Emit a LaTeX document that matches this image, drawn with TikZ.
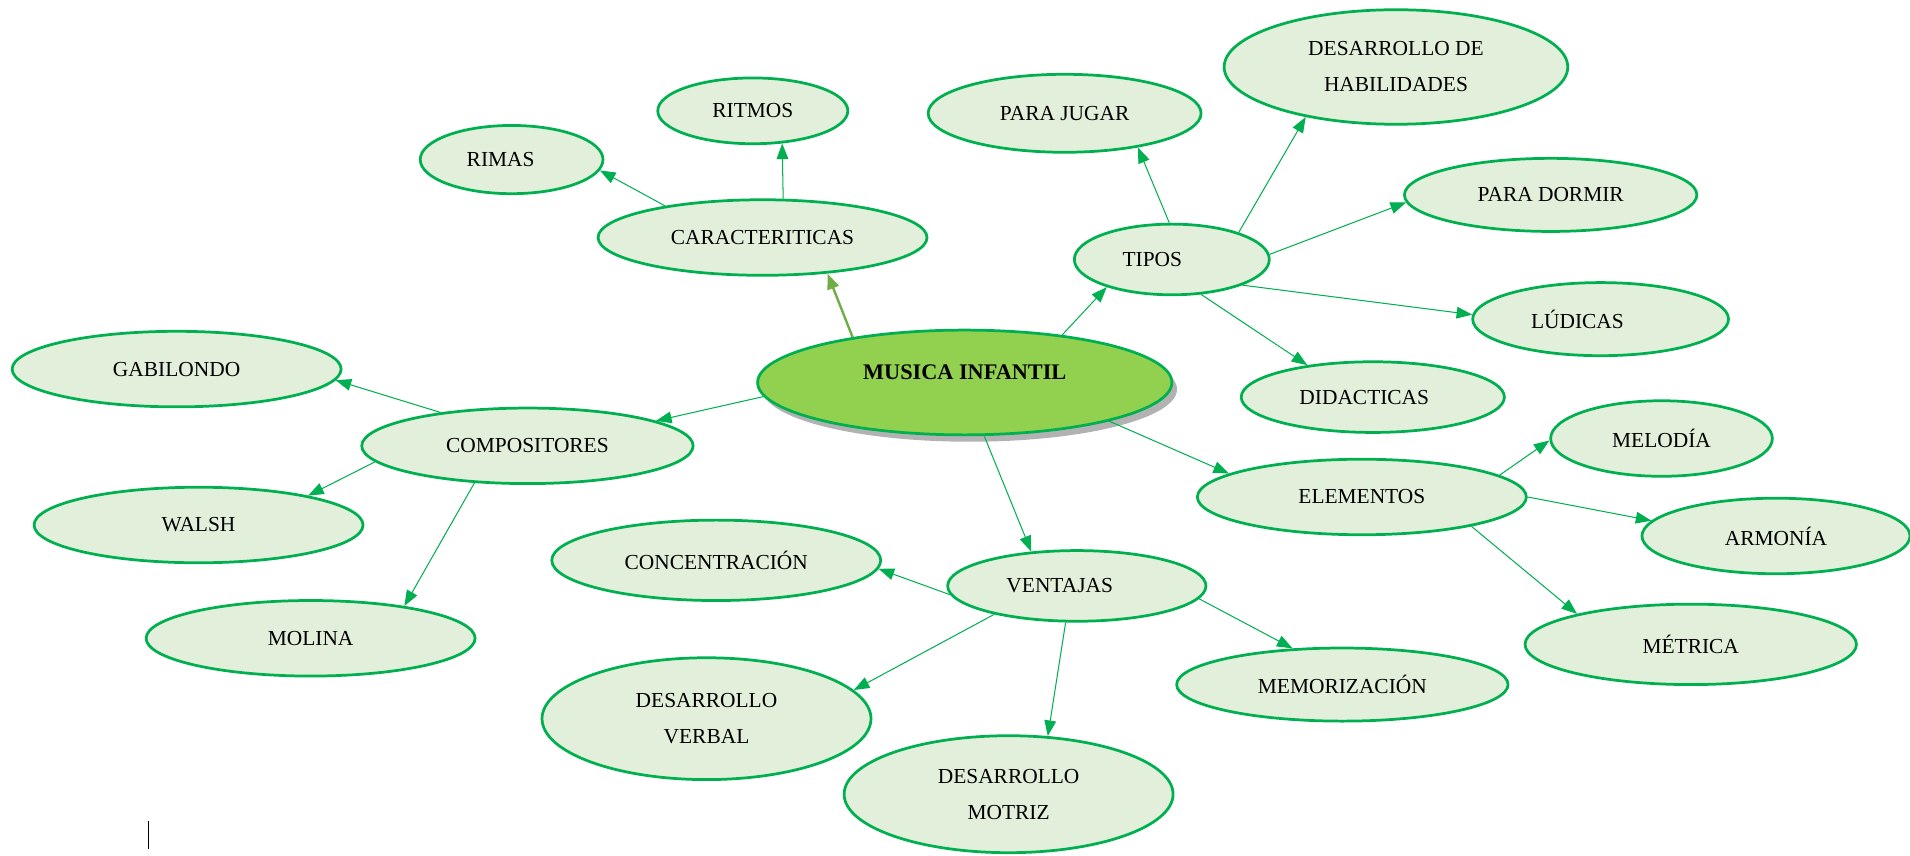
\documentclass[tikz,border=0pt]{standalone}
\usepackage{fontspec}
\setmainfont{Liberation Serif}
\usetikzlibrary{shapes.geometric, arrows.meta, shadows}
\definecolor{leafgreen}{HTML}{00B050}
\definecolor{leaffill}{HTML}{E2EFDA}
\definecolor{rootfill}{HTML}{92D050}
\definecolor{rootlink}{HTML}{70AD47}
\tikzset{
    idea/.style = {ellipse, draw=leafgreen, fill=leaffill, line width=1.6pt, inner sep=0pt,
        minimum width=6.75cm, minimum height=1.55cm, align=center,
        font=\fontsize{12.5}{21}\selectfont},
    root idea/.style = {idea, fill=rootfill, minimum width=8.5cm, minimum height=2.15cm,
        font=\fontsize{13}{16}\selectfont\bfseries, text depth=0.43cm,
        drop shadow={shadow xshift=3pt, shadow yshift=-4pt, fill=black, opacity=0.3}},
    link/.style = {draw=leafgreen, line width=0.6pt, -{Triangle[length=3.2mm, width=2.4mm]}},
    root link/.style = {link, draw=rootlink, line width=1.4pt}
}
\begin{document}
\begin{tikzpicture}[x=0.025cm, y=-0.025cm]
        \useasboundingbox (0, 0) rectangle (1568, 702);
        % draw central idea
        \node[root idea] (musica) at (792, 314) {MUSICA INFANTIL};
        % draw first ring
        \node[idea] (carac) at (626, 195) {CARACTERITICAS};
        \node[idea, minimum width=6.8cm] (comp) at (433, 366) {COMPOSITORES};
        \node[idea, minimum width=4cm, minimum height=1.45cm] (tipos) at (962, 213) {TIPOS\hspace*{0.8cm}};
        \node[idea] (elem) at (1118, 408) {ELEMENTOS};
        \node[idea, minimum width=5.3cm, minimum height=1.45cm] (vent) at (884, 481) {VENTAJAS\hspace*{0.7cm}};
        % draw leaves of caracteriticas
        \node[idea, minimum width=3.9cm, minimum height=1.35cm] (ritmos) at (618, 91) {RITMOS};
        \node[idea, minimum width=3.75cm, minimum height=1.4cm] (rimas) at (420, 131) {RIMAS\hspace*{0.45cm}};
        % draw leaves of compositores
        \node[idea] (gabi) at (145, 303) {GABILONDO};
        \node[idea] (walsh) at (163, 431) {WALSH};
        \node[idea] (molina) at (255, 524) {MOLINA};
        % draw leaves of tipos
        \node[idea, minimum width=5.6cm, minimum height=1.6cm] (jugar) at (874, 93) {PARA JUGAR};
        \node[idea, minimum width=7.05cm, minimum height=2.35cm] (habil) at (1146, 55) {DESARROLLO DE\\HABILIDADES};
        \node[idea, minimum width=6cm, minimum height=1.5cm] (dormir) at (1273, 160) {PARA DORMIR};
        \node[idea, minimum width=5.25cm, minimum height=1.5cm] (ludicas) at (1314, 262) {LÚDICAS\hspace*{0.95cm}};
        \node[idea, minimum width=5.4cm, minimum height=1.45cm] (didac) at (1127, 326) {DIDACTICAS\hspace*{0.35cm}};
        % draw leaves of elementos
        \node[idea, minimum width=4.55cm] (melodia) at (1364, 360) {MELODÍA};
        \node[idea, minimum width=5.5cm] (armonia) at (1458, 440) {ARMONÍA};
        \node[idea, minimum width=6.8cm, minimum height=1.65cm] (metrica) at (1388, 529) {MÉTRICA};
        % draw leaves of ventajas
        \node[idea, minimum height=1.65cm] (conc) at (588, 460) {CONCENTRACIÓN};
        \node[idea, minimum height=2.5cm] (verbal) at (580, 590) {DESARROLLO\\VERBAL};
        \node[idea, minimum height=2.4cm] (motriz) at (828, 652) {DESARROLLO\\MOTRIZ};
        \node[idea, minimum width=6.8cm, minimum height=1.5cm] (memo) at (1102, 562) {MEMORIZACIÓN};
        % draw links
        \draw[root link] (musica.158.6) -- (carac.331.6);
        \foreach \from/\fa/\to/\ta in {carac/62/ritmos/312, carac/162/rimas/353,
                musica/184.4/comp/11, comp/159.8/gabi/356.5, comp/186/walsh/15.5, comp/215/molina/19.7,
                musica/26.6/tipos/203, tipos/94/jugar/335.5, tipos/22.3/habil/209, tipos/3.4/dormir/183.8,
                tipos/340.8/ludicas/178.9, tipos/310/didac/154,
                musica/345.4/elem/170, elem/9.8/melodia/181, elem/0.4/armonia/173, elem/345/metrica/165,
                musica/290/vent/143.6, vent/184/conc/357.4, vent/199/verbal/11.2, vent/253/motriz/56.8,
                vent/354.6/memo/144.5}
            \draw[link] (\from.\fa) -- (\to.\ta);
        % draw text cursor
        \draw[line width=0.6pt] (122, 674) -- (122, 697);
    \end{tikzpicture}
\end{document}
